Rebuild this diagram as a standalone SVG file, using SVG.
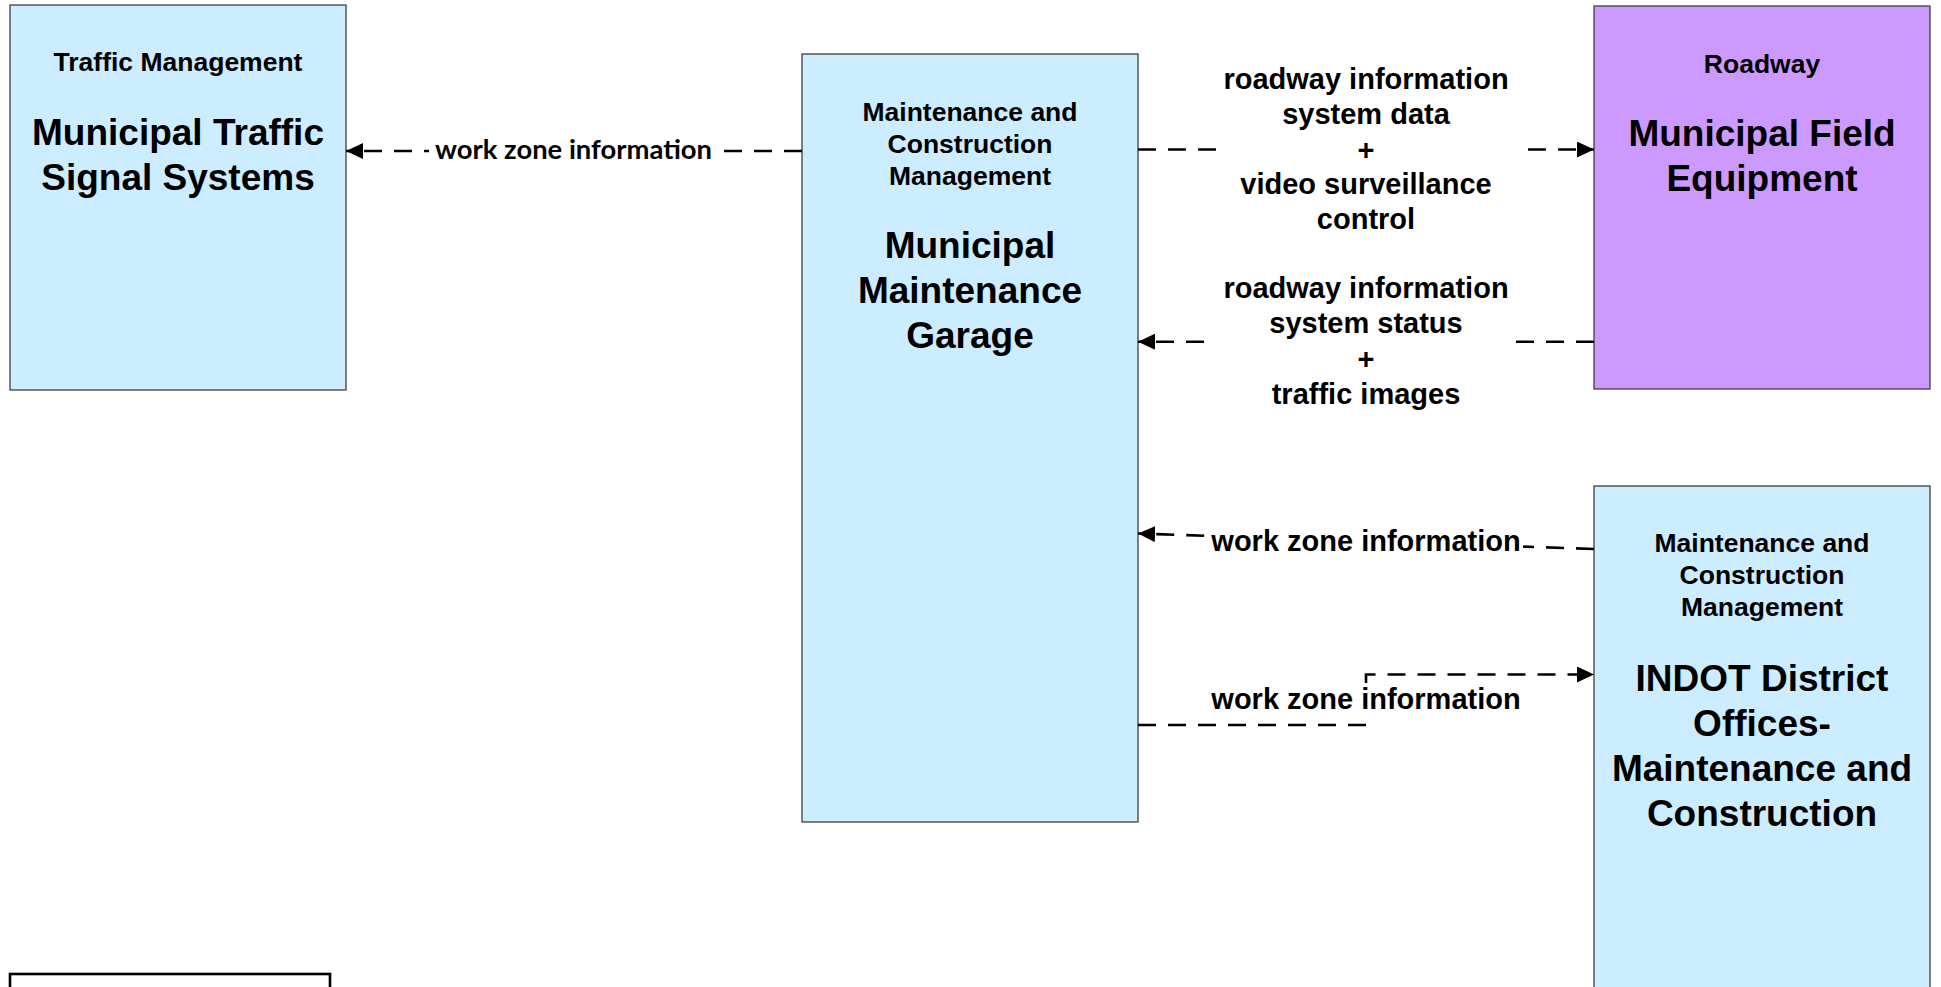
<svg xmlns="http://www.w3.org/2000/svg" width="1941" height="987" viewBox="0 0 1941 987">
<style>
.box{stroke:#404040;stroke-width:1.3}
.blue{fill:#CCECFF}
.purple{fill:#CC99FF}
.sm{font-family:"Liberation Sans",Arial,sans-serif;font-weight:bold;font-size:26.5px;text-anchor:middle;fill:#000}
.big{font-family:"Liberation Sans",Arial,sans-serif;font-weight:bold;font-size:37px;text-anchor:middle;fill:#000}
.lbl{font-family:"Liberation Sans",Arial,sans-serif;font-weight:bold;font-size:29px;text-anchor:middle;fill:#000}
.lblc{font-family:Lato,"Open Sans",sans-serif;font-weight:bold;font-size:26px;fill:#000}
.conn{fill:none;stroke:#000;stroke-width:2.6;stroke-dasharray:18 12}
.bg{fill:#fff}
</style>
<defs>
<marker id="arrow" markerUnits="userSpaceOnUse" markerWidth="17" markerHeight="16" refX="17" refY="8" orient="auto">
<path d="M0,0 L17,8 L0,16 z" fill="#000"/>
</marker>
</defs>
<rect width="1941" height="987" fill="#fff"/>

<g id="node-traffic">
<rect class="box blue" x="10" y="5" width="336" height="385"/>
<text class="sm" x="178" y="71">Traffic Management</text>
<text class="big" x="178" y="144.5">Municipal Traffic</text>
<text class="big" x="178" y="189.5">Signal Systems</text>
</g>

<g id="node-garage">
<rect class="box blue" x="802" y="54" width="336" height="768"/>
<text class="sm" x="970" y="120.7">Maintenance and</text>
<text class="sm" x="970" y="152.7">Construction</text>
<text class="sm" x="970" y="184.7">Management</text>
<text class="big" x="970" y="258">Municipal</text>
<text class="big" x="970" y="303">Maintenance</text>
<text class="big" x="970" y="348">Garage</text>
</g>

<g id="node-field">
<rect class="box purple" x="1594" y="6" width="336" height="383"/>
<text class="sm" x="1762" y="72.5">Roadway</text>
<text class="big" x="1762" y="146">Municipal Field</text>
<text class="big" x="1762" y="191">Equipment</text>
</g>

<g id="node-indot">
<rect class="box blue" x="1594" y="486" width="336" height="560"/>
<text class="sm" x="1762" y="552">Maintenance and</text>
<text class="sm" x="1762" y="584">Construction</text>
<text class="sm" x="1762" y="616">Management</text>
<text class="big" x="1762" y="691">INDOT District</text>
<text class="big" x="1762" y="736">Offices-</text>
<text class="big" x="1762" y="781">Maintenance and</text>
<text class="big" x="1762" y="826">Construction</text>
</g>

<g id="node-legend">
<rect x="10" y="974" width="320" height="40" fill="#fff" stroke="#000" stroke-width="2.6"/>
</g>

<g id="connectors">
<path class="conn" d="M802,151 L346,151" marker-end="url(#arrow)"/>
<rect class="bg" x="429" y="137" width="285" height="29"/>
<text class="lblc" x="435" y="159.3" textLength="277" lengthAdjust="spacingAndGlyphs">work zone information</text>

<path class="conn" d="M1138,149.5 L1594,149.5" marker-end="url(#arrow)"/>
<rect class="bg" x="1222" y="62" width="298" height="176"/>
<text class="lbl" x="1366" y="89">roadway information</text>
<text class="lbl" x="1366" y="124">system data</text>
<text class="lbl" x="1366" y="159.5">+</text>
<text class="lbl" x="1366" y="194">video surveillance</text>
<text class="lbl" x="1366" y="229">control</text>

<path class="conn" d="M1594,341.7 L1138,341.7" marker-end="url(#arrow)"/>
<rect class="bg" x="1210" y="272" width="300" height="141"/>
<text class="lbl" x="1366" y="298">roadway information</text>
<text class="lbl" x="1366" y="333">system status</text>
<text class="lbl" x="1366" y="369">+</text>
<text class="lbl" x="1366" y="404">traffic images</text>

<path class="conn" d="M1594,549 L1138,533.5" marker-end="url(#arrow)"/>
<rect class="bg" x="1208" y="526" width="315" height="31"/>
<text class="lbl" x="1366" y="551">work zone information</text>

<path class="conn" d="M1138,725 L1366,725 L1366,674.5 L1594,674.5" marker-end="url(#arrow)"/>
<rect class="bg" x="1208" y="686" width="315" height="30"/>
<text class="lbl" x="1366" y="709">work zone information</text>
</g>
</svg>
